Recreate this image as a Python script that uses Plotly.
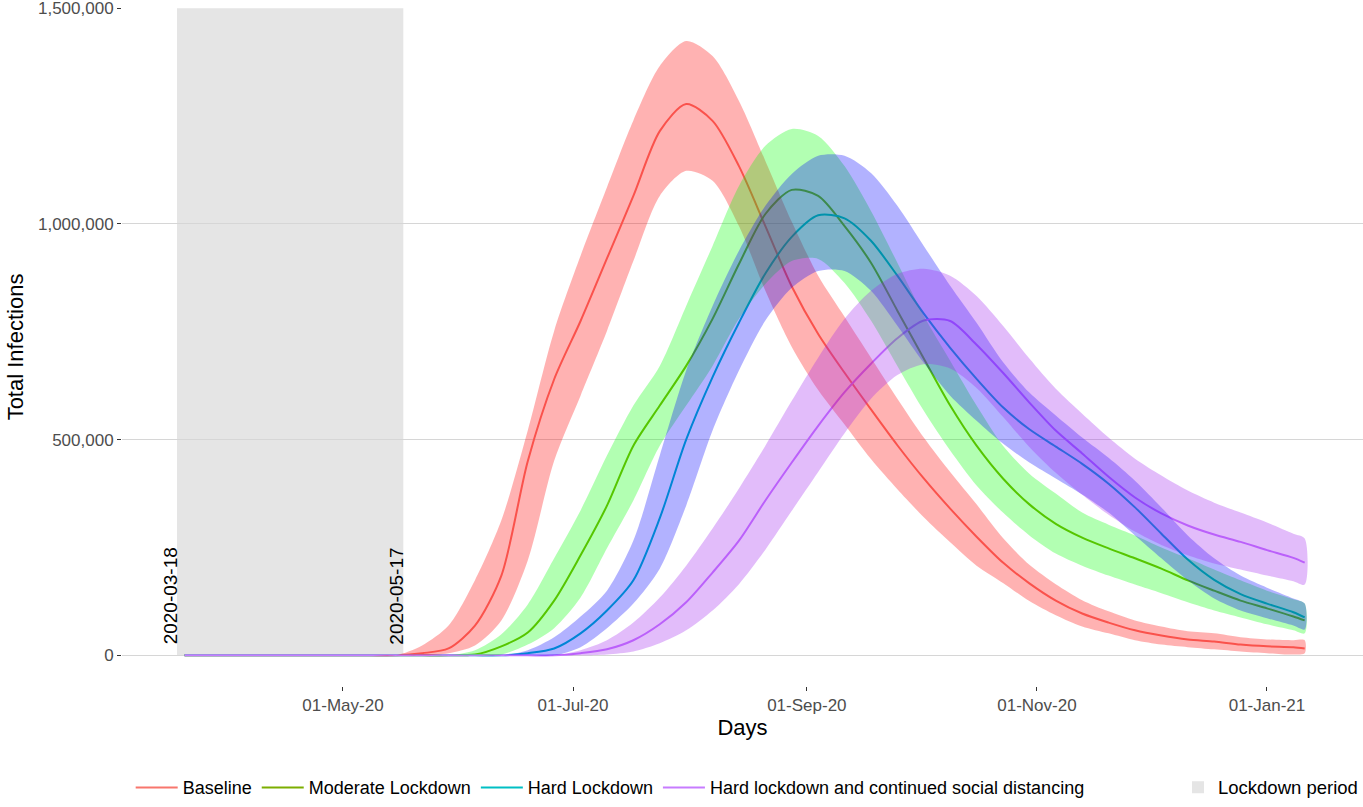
import plotly.graph_objects as go

dates = ["2020-03-20", "2020-03-27", "2020-04-03", "2020-04-10", "2020-04-17", "2020-04-24",
         "2020-05-01", "2020-05-08", "2020-05-15", "2020-05-22", "2020-05-29", "2020-06-05",
         "2020-06-12", "2020-06-19", "2020-06-26", "2020-07-03", "2020-07-10", "2020-07-17",
         "2020-07-24", "2020-07-31", "2020-08-07", "2020-08-14", "2020-08-21", "2020-08-28",
         "2020-09-04", "2020-09-11", "2020-09-18", "2020-09-25", "2020-10-02", "2020-10-09",
         "2020-10-16", "2020-10-23", "2020-10-30", "2020-11-06", "2020-11-13", "2020-11-20",
         "2020-11-27", "2020-12-04", "2020-12-11", "2020-12-18", "2020-12-25", "2021-01-01",
         "2021-01-08", "2021-01-11"]

# values in thousands of infections
baseline_mid = [0, 0, 0, 0, 0, 0, 0, 0, 0, 5, 16, 69, 185, 450, 640, 775, 920, 1065, 1215, 1278,
                1239, 1134, 995, 855, 745, 655, 570, 487, 410, 340, 275, 215, 167, 127, 97, 76,
                58, 46, 37, 32, 25, 21, 19, 16]
baseline_hi = [0, 0, 0, 0, 0, 0, 0, 0, 0, 23, 69, 174, 313, 521, 752, 926, 1085, 1240, 1366, 1424,
               1389, 1285, 1146, 1005, 880, 785, 690, 595, 505, 425, 350, 272, 210, 165, 128, 102,
               81, 67, 56, 51, 42, 37, 35, 35]
baseline_lo = [0, 0, 0, 0, 0, 0, 0, 0, 0, 0, 5, 23, 81, 220, 451, 602, 752, 914, 1065, 1123,
               1100, 995, 845, 715, 615, 535, 455, 385, 320, 262, 208, 168, 126, 93, 67, 51,
               35, 25, 19, 14, 9, 5, 2, 5]

moderate_mid = [0, 0, 0, 0, 0, 0, 0, 0, 0, 0, 0, 2, 21, 53, 127, 232, 347, 486, 579, 671,
                780, 907, 1023, 1079, 1065, 995, 910, 799, 688, 579, 486, 410, 350, 305, 273, 248,
                225, 201, 174, 150, 127, 109, 90, 81]
moderate_hi = [0, 0, 0, 0, 0, 0, 0, 0, 0, 0, 0, 12, 49, 118, 225, 336, 463, 579, 671, 810,
               949, 1088, 1181, 1220, 1204, 1134, 1030, 910, 787, 683, 579, 486, 421, 375, 331, 303,
               278, 250, 225, 199, 174, 150, 130, 120]
moderate_lo = [0, 0, 0, 0, 0, 0, 0, 0, 0, 0, 0, 0, 2, 25, 63, 134, 248, 359, 486, 579,
               671, 780, 861, 914, 919, 863, 776, 671, 567, 475, 394, 331, 278, 236, 208, 185,
               164, 144, 123, 104, 88, 72, 58, 51]

hard_mid = [0, 0, 0, 0, 0, 0, 0, 0, 0, 0, 0, 0, 0, 5, 16, 51, 104, 174, 318, 500,
            645, 771, 885, 970, 1020, 1013, 961, 880, 792, 713, 641, 575, 524, 484, 444, 398,
            343, 282, 222, 175, 142, 120, 100, 88]
hard_hi = [0, 0, 0, 0, 0, 0, 0, 0, 0, 0, 0, 0, 0, 12, 42, 90, 150, 266, 463, 660,
           810, 938, 1042, 1116, 1158, 1158, 1118, 1042, 949, 857, 771, 680, 609, 556, 505, 458,
           405, 343, 278, 225, 185, 157, 132, 120]
hard_lo = [0, 0, 0, 0, 0, 0, 0, 0, 0, 0, 0, 0, 0, 0, 0, 19, 63, 120, 201, 347,
           521, 660, 776, 852, 891, 891, 845, 764, 678, 602, 544, 491, 447, 410, 373, 331,
           278, 225, 174, 132, 104, 86, 69, 60]

distancing_mid = [0, 0, 0, 0, 0, 0, 0, 0, 0, 0, 0, 0, 0, 0, 0, 5, 14, 35, 72, 123,
                  192, 266, 359, 447, 532, 610, 676, 735, 776, 775, 720, 655, 586, 521, 468, 414,
                  366, 329, 301, 280, 263, 244, 226, 215]
distancing_hi = [0, 0, 0, 0, 0, 0, 0, 0, 0, 0, 0, 0, 0, 0, 0, 12, 35, 76, 134, 208,
                 294, 387, 486, 590, 690, 780, 845, 884, 896, 880, 833, 764, 688, 618, 560, 505,
                 456, 417, 382, 354, 331, 308, 282, 271]
distancing_lo = [0, 0, 0, 0, 0, 0, 0, 0, 0, 0, 0, 0, 0, 0, 0, 0, 2, 9, 28, 58,
                 104, 165, 245, 335, 425, 515, 595, 650, 675, 665, 620, 553, 483, 423, 372, 326,
                 287, 256, 232, 213, 199, 185, 172, 164]

series_names = ["Baseline", "Moderate Lockdown", "Hard Lockdown",
                "Hard lockdown and continued social distancing"]
mids = [baseline_mid, moderate_mid, hard_mid, distancing_mid]
his = [baseline_hi, moderate_hi, hard_hi, distancing_hi]
los = [baseline_lo, moderate_lo, hard_lo, distancing_lo]
line_colors = ["#F8766D", "#7CAE00", "#00BFC4", "#C77CFF"]
ribbon_colors = ["rgba(255,0,0,0.3)", "rgba(0,255,0,0.3)", "rgba(0,0,255,0.3)",
                 "rgba(160,32,240,0.3)"]

lockdown_start = "2020-03-18"
lockdown_end = "2020-05-17"

tick_dates = ["2020-05-01", "2020-07-01", "2020-09-01", "2020-11-01", "2021-01-01"]
tick_labels = ["01-May-20", "01-Jul-20", "01-Sep-20", "01-Nov-20", "01-Jan-21"]
y_ticks = [0, 500000, 1000000, 1500000]
y_labels = ["0", "500,000", "1,000,000", "1,500,000"]

FONT = "Liberation Sans, Arial, sans-serif"

fig = go.Figure()

# lines (drawn beneath the ribbons, as in the original)
for name, mid, col in zip(series_names, mids, line_colors):
    fig.add_trace(go.Scatter(
        x=dates, y=[v * 1000 for v in mid], mode="lines", name=name,
        line=dict(color=col, width=2, shape="spline", smoothing=0.8),
        legend="legend", hoverinfo="skip"))

# ribbons
for name, hi, lo, col in zip(series_names, his, los, ribbon_colors):
    fig.add_trace(go.Scatter(
        x=dates + dates[::-1],
        y=[v * 1000 for v in hi] + [v * 1000 for v in lo[::-1]],
        mode="lines", fill="toself", fillcolor=col,
        line=dict(width=0, shape="spline", smoothing=0.8),
        showlegend=False, hoverinfo="skip"))

fig.add_shape(type="rect", xref="x", yref="y", x0=lockdown_start, x1=lockdown_end,
              y0=0, y1=1500000, fillcolor="#E5E5E5", line=dict(width=0),
              layer="below", showlegend=True, name="Lockdown period", legend="legend2")

for d in [lockdown_start, lockdown_end]:
    fig.add_annotation(x=d, y=0, xref="x", yref="y", text=d, textangle=-90,
                       showarrow=False, xanchor="right", yanchor="bottom",
                       xshift=6, yshift=9, font=dict(family=FONT, size=19, color="black"))

fig.update_layout(
    width=1363, height=807,
    margin=dict(l=122, r=0, t=8, b=121),
    paper_bgcolor="white", plot_bgcolor="white",
    font=dict(family=FONT, color="black"),
    xaxis=dict(
        range=["2020-03-03 10:00", "2021-01-26 11:00"],
        tickvals=tick_dates, ticktext=tick_labels,
        showgrid=False, zeroline=False, showline=False,
        ticks="outside", ticklen=4, tickcolor="#333333", tickwidth=1,
        tickfont=dict(family=FONT, size=17, color="#4D4D4D"),
        title=dict(text="Days", font=dict(family=FONT, size=22, color="black"), standoff=4),
    ),
    yaxis=dict(
        range=[-71000, 1500500],
        tickvals=y_ticks, ticktext=y_labels,
        showgrid=True, gridcolor="#D6D6D6", gridwidth=1.2,
        zeroline=False, showline=False,
        ticks="outside", ticklen=4, tickcolor="#333333", tickwidth=1,
        ticklabeloverflow="allow",
        tickfont=dict(family=FONT, size=17, color="#4D4D4D"),
        title=dict(text="Total Infections", font=dict(family=FONT, size=22, color="black"),
                   standoff=8),
    ),
    legend=dict(orientation="h", x=0.007, y=-0.15, xanchor="left", yanchor="middle",
                font=dict(family=FONT, size=18, color="black"), bgcolor="rgba(0,0,0,0)",
                itemwidth=42),
    legend2=dict(orientation="h", x=0.851, y=-0.15, xanchor="left", yanchor="middle",
                 font=dict(family=FONT, size=18.5, color="black"), bgcolor="rgba(0,0,0,0)"),
)

fig.write_html("out.html", config={"displayModeBar": False},
               post_script="document.body.style.margin='0';")
